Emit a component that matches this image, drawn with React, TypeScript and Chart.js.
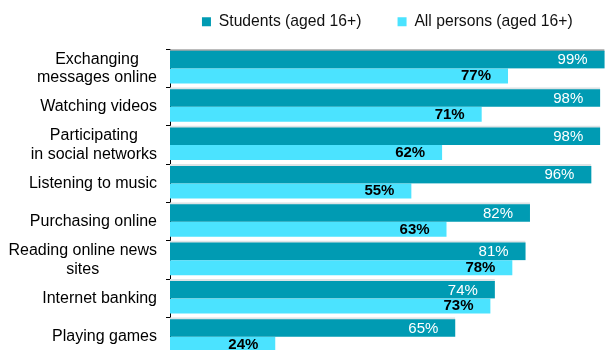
import React, { useEffect, useRef } from "react";
import { Chart, registerables } from "chart.js";

Chart.register(...registerables);

const categories: (string | string[])[] = [
  ["Exchanging", "messages online"],
  "Watching videos",
  ["Participating", "in social networks"],
  "Listening to music",
  "Purchasing online",
  ["Reading online news", "sites"],
  "Internet banking",
  "Playing games",
];
const seriesNames = ["Students (aged 16+)", "All persons (aged 16+)"];
const students = [99, 98, 98, 96, 82, 81, 74, 65];
const allPersons = [77, 71, 62, 55, 63, 78, 73, 24];

const STUDENTS_COLOR = "#009BB3";
const ALL_COLOR = "#4BE3FF";
const FONT = "'Liberation Sans', Arial, sans-serif";
const GAP = 4.5; // transparent bottom border on the second series, leaves the gap between groups

const labelPlugin = {
  id: "customLabels",
  afterDatasetsDraw(chart: any) {
    const ctx = chart.ctx;
    chart.data.datasets.forEach((ds: any, di: number) => {
      const meta = chart.getDatasetMeta(di);
      meta.data.forEach((bar: any, i: number) => {
        const v = ds.data[i];
        ctx.save();
        ctx.font = di === 0 ? `15px ${FONT}` : `bold 15px ${FONT}`;
        ctx.fillStyle = di === 0 ? "#ffffff" : "#000000";
        ctx.textAlign = "right";
        ctx.textBaseline = "middle";
        const y = di === 0 ? bar.y + 1.5 : bar.y - GAP / 2 + 0.5;
        ctx.fillText(`${v}%`, bar.x - 17, y);
        ctx.restore();
      });
    });
  },
  afterDraw(chart: any) {
    const scale = chart.scales.y;
    const ctx = chart.ctx;
    ctx.save();
    ctx.font = `16px ${FONT}`;
    ctx.fillStyle = "#000000";
    ctx.textBaseline = "middle";
    ctx.textAlign = "center";
    const lh = 18.3;
    const right = scale.right - 13;
    categories.forEach((c, i) => {
      const lines = Array.isArray(c) ? c : [c];
      const w = Math.max(...lines.map((l) => ctx.measureText(l).width));
      const cx = right - w / 2;
      const y0 = scale.getPixelForTick(i) - ((lines.length - 1) * lh) / 2;
      lines.forEach((l, j) => ctx.fillText(l, cx, y0 + j * lh));
    });
    ctx.restore();
  },
};

export default function App() {
  const canvasRef = useRef<HTMLCanvasElement | null>(null);

  useEffect(() => {
    const canvas = canvasRef.current;
    if (!canvas) return;
    const chart = new Chart(canvas, {
      type: "bar",
      data: {
        labels: categories.map((c) => (Array.isArray(c) ? c.join(" ") : c)),
        datasets: [
          {
            label: seriesNames[0],
            data: students,
            backgroundColor: STUDENTS_COLOR,
            borderColor: (c: any) => (c.dataIndex === 0 ? "#a6a6a6" : "#dde3e5"),
            borderWidth: { top: 2, right: 0, bottom: 0, left: 0 },
            borderSkipped: false,
            categoryPercentage: 1,
            barPercentage: 1,
          },
          {
            label: seriesNames[1],
            data: allPersons,
            backgroundColor: ALL_COLOR,
            borderColor: "rgba(255,255,255,0)",
            borderWidth: { top: 0, right: 0, bottom: GAP, left: 0 },
            borderSkipped: false,
            categoryPercentage: 1,
            barPercentage: 1,
          },
        ],
      },
      options: {
        indexAxis: "y",
        responsive: false,
        maintainAspectRatio: false,
        devicePixelRatio: 1,
        animation: false,
        layout: { padding: { top: 4, left: 0, right: 0, bottom: 0 } },
        plugins: {
          tooltip: { enabled: false },
          legend: {
            display: true,
            position: "top",
            fullSize: false,
            align: "center",
            labels: {
              font: { family: FONT, size: 15.7 },
              color: "#111111",
              boxWidth: 9,
              boxHeight: 9,
              padding: 10,
              generateLabels: (ch: any) => {
                const items = (Chart.defaults.plugins.legend.labels as any).generateLabels(ch);
                items.forEach((it: any, i: number) => {
                  it.text = it.text + (i === 0 ? "      " : " ");
                  it.lineWidth = 0;
                  it.strokeStyle = "rgba(0,0,0,0)";
                });
                return items;
              },
            },
          },
        },
        scales: {
          x: {
            min: 0,
            max: 100,
            display: true,
            position: "top",
            grid: { display: false },
            border: { display: false },
            ticks: { display: false },
            afterFit: (s: any) => {
              s.height = 9.5;
            },
          },
          y: {
            position: "left",
            grid: {
              display: true,
              drawOnChartArea: false,
              drawTicks: true,
              tickLength: 4,
              color: "#000000",
              offset: true,
            },
            border: { display: true, color: "#000000", width: 1 },
            ticks: { display: false },
            afterFit: (s: any) => {
              s.width = 170;
            },
          },
        },
      },
      plugins: [labelPlugin],
    } as any);
    return () => chart.destroy();
  }, []);

  return (
    <div
      style={{
        position: "fixed",
        left: 0,
        top: 0,
        width: 606,
        height: 350,
        overflow: "hidden",
        background: "#ffffff",
      }}
    >
      <canvas ref={canvasRef} width={609} height={356} style={{ display: "block", width: 609, height: 356 }} />
    </div>
  );
}
